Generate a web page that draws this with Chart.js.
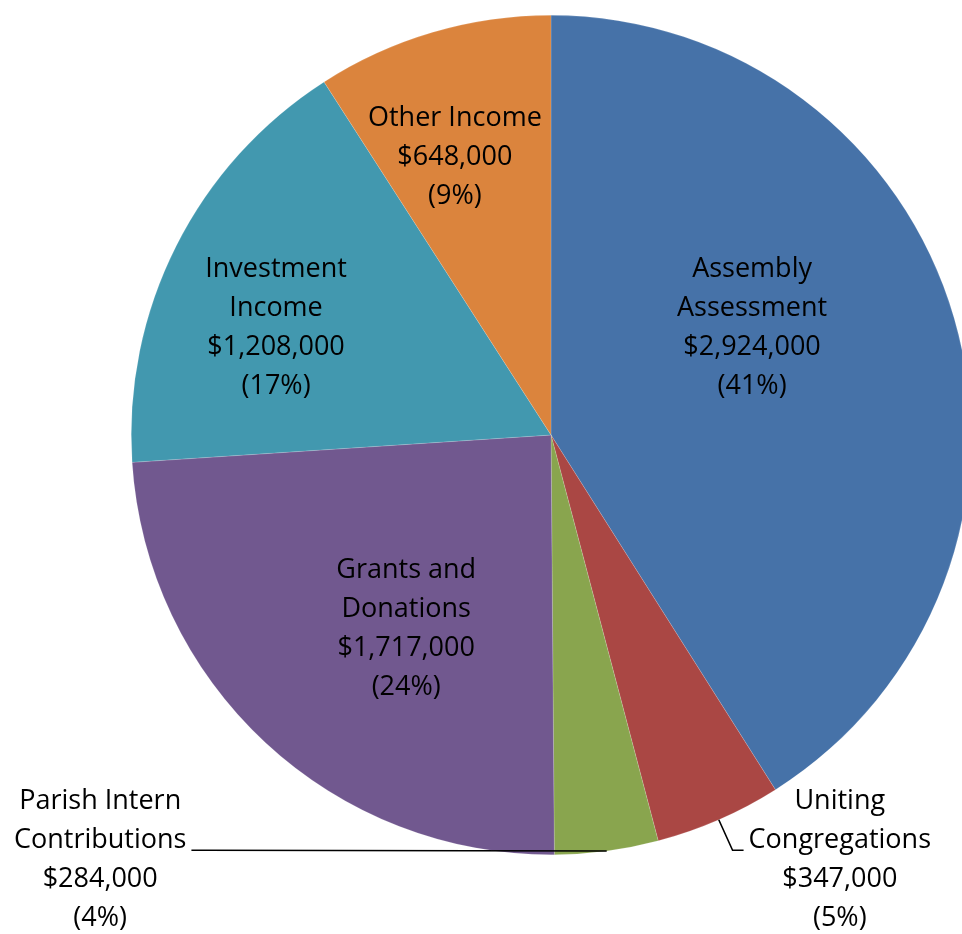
<!DOCTYPE html>
<html>
<head>
<meta charset="utf-8">
<script src="https://cdn.jsdelivr.net/npm/chart.js@4/dist/chart.umd.min.js"></script>
<style>
  html, body { margin: 0; padding: 0; background: #fff; overflow: hidden; }
  #wrap { width: 962px; height: 934px; overflow: hidden; position: relative; }
  canvas { position: absolute; left: 0; top: 0; }
</style>
</head>
<body>
<div id="wrap"><canvas id="pie" width="1102" height="934"></canvas></div>
<script>
// datos del grafico
const categorias = [
  'Assembly\nAssessment',
  'Uniting\nCongregations',
  'Parish Intern\nContributions',
  'Grants and\nDonations',
  'Investment\nIncome',
  'Other Income'
];
const montos = [2924000, 347000, 284000, 1717000, 1208000, 648000];
const colores = ['#4672A8', '#AA4744', '#89A54E', '#71588F', '#4298AF', '#DB843D'];

// posicion de cada etiqueta, en fracciones del radio desde el centro
const posEtiquetas = [
  [0.479, -0.255],
  [0.688, 1.012],
  [-1.074, 1.012],
  [-0.345, 0.462],
  [-0.655, -0.255],
  [-0.229, -0.662]
];
// slices con linea guia
const conGuia = [false, true, true, false, false, false];

const FUENTE = '27px "Open Sans"';
const ALTO_LINEA = 39;

const total = montos.reduce((a, b) => a + b, 0);

function formatoDinero(v){
  return '$' + v.toLocaleString('en-US');
}

function lineasEtiqueta(i){
  const pct = Math.round(montos[i] / total * 100);
  return [...categorias[i].split('\n'), formatoDinero(montos[i]), `(${pct}%)`];
}

const pluginEtiquetas = {
  id: 'etiquetas',
  afterDatasetsDraw(chart){
    const ctx = chart.ctx;
    const arcs = chart.getDatasetMeta(0).data;
    ctx.save();
    ctx.font = FUENTE;
    ctx.fillStyle = '#000';
    ctx.textAlign = 'center';
    ctx.textBaseline = 'middle';
    arcs.forEach((arc, i) => {
      const r = arc.outerRadius;
      const cx = arc.x + posEtiquetas[i][0] * r;
      const cy = arc.y + posEtiquetas[i][1] * r;
      const lineas = lineasEtiqueta(i);
      const y0 = cy - (lineas.length - 1) * ALTO_LINEA / 2;
      lineas.forEach((t, k) => ctx.fillText(t, cx, y0 + k * ALTO_LINEA));

      if (conGuia[i]) {
        const medio = (arc.startAngle + arc.endAngle) / 2;
        const sx = arc.x + Math.cos(medio) * r;
        const sy = arc.y + Math.sin(medio) * r;
        const ancho = ctx.measureText(lineas[1]).width;
        const lado = sx > cx ? 1 : -1; // etiqueta a la izquierda o derecha
        const ex = cx + lado * (ancho / 2 + 5);
        const ey = y0 + ALTO_LINEA + 10;
        ctx.beginPath();
        ctx.strokeStyle = '#000';
        ctx.lineWidth = 1.6;
        ctx.moveTo(sx, sy);
        ctx.lineTo(ex + lado * 11, ey);
        ctx.lineTo(ex, ey);
        ctx.stroke();
      }
    });
    ctx.restore();
  }
};

new Chart(document.getElementById('pie'), {
  type: 'pie',
  data: {
    labels: categorias.map(c => c.replace('\n', ' ')),
    datasets: [{
      data: montos,
      backgroundColor: colores,
      borderWidth: 0.5,
      borderColor: 'rgba(255,255,255,0.3)'
    }]
  },
  options: {
    responsive: false,
    animation: false,
    layout: { padding: { top: 15, bottom: 79, left: 0, right: 0 } },
    plugins: {
      legend: { display: false },
      tooltip: { enabled: false }
    }
  },
  plugins: [pluginEtiquetas]
});
</script>
</body>
</html>
